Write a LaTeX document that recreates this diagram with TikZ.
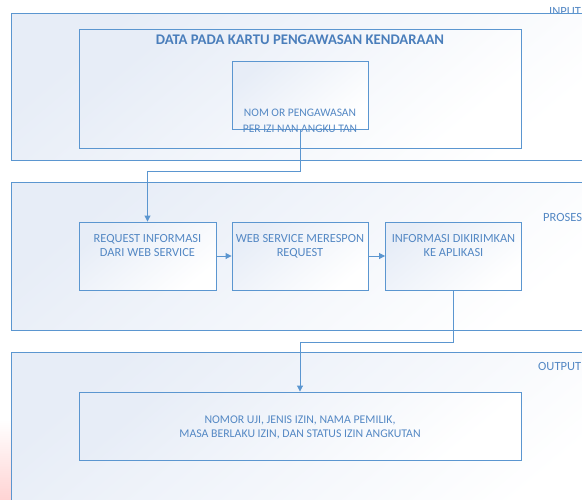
\documentclass[tikz,border=0pt]{standalone}
\usepackage{fontspec}
\setmainfont{Carlito}
\usetikzlibrary{arrows.meta}
\definecolor{lineblue}{RGB}{91,150,208}
\definecolor{textblue}{RGB}{84,136,196}
\definecolor{titleblue}{RGB}{74,126,187}
\definecolor{shadeA}{RGB}{231,237,247}
\definecolor{pinkish}{RGB}{255,212,212}
\tikzset{
  lane/.style={draw=lineblue, line width=0.9pt, top color=shadeA, bottom color=white, shading angle=40},
  procbox/.style={draw=lineblue, line width=0.9pt, top color=shadeA, bottom color=white, shading angle=40, inner sep=0pt},
  boxtext/.style={text=textblue, align=center, inner sep=0pt, anchor=north},
  lanelabel/.style={text=textblue, inner sep=0pt, anchor=west, font=\fontsize{12.5}{14}\selectfont},
  conn/.style={draw=lineblue, line width=0.9pt},
  arr/.style={conn, -{Triangle[length=6pt,width=6pt]}}
}
\begin{document}
\begin{tikzpicture}[x=1pt,y=-1pt]
\useasboundingbox (0,0) rectangle (582,499);
\clip (0,0) rectangle (582,499);
% faint pink mark at lower left
\shade[top color=white, bottom color=pinkish] (0,420) rectangle (12,499);
% lane labels (INPUT is crossed by the lane's top line)
\node[lanelabel] (lblin) at (549,11.5) {INPUT};
% lanes
\draw[lane] (11,13) rectangle (610,160);
\draw[lane] (11,182) rectangle (610,330);
\draw[lane] (11,352) rectangle (610,520);
\node[lanelabel] (lblpr) at (543,217.3) {PROSES};
\node[lanelabel] (lblout) at (538,366.7) {OUTPUT};
% input
\node[procbox, minimum width=442pt, minimum height=119pt] (data) at (300,88.5) {};
\node[boxtext, font=\fontsize{14.7}{16}\selectfont\bfseries, text=titleblue] (datat) at (300,34.8) {DATA PADA KARTU PENGAWASAN KENDARAAN};
\node[procbox, minimum width=136pt, minimum height=68pt] (nomor) at (300,95) {};
\node[boxtext, font=\fontsize{11.5}{16}\selectfont] (nomort) at (300,109.3) {NOM OR PENGAWASAN\\PER IZI NAN ANGKU TAN};
% proses
\node[procbox, minimum width=137pt, minimum height=68pt] (req) at (147.5,256) {};
\node[procbox, minimum width=136pt, minimum height=68pt] (web) at (300,256) {};
\node[procbox, minimum width=136pt, minimum height=68pt] (info) at (453.5,256) {};
\node[boxtext, font=\fontsize{12.4}{13.6}\selectfont] (reqt) at (147.5,234.3) {REQUEST INFORMASI\\DARI WEB SERVICE};
\node[boxtext, font=\fontsize{12.4}{13.6}\selectfont] (webt) at (300,234.3) {WEB SERVICE MERESPON\\REQUEST};
\node[boxtext, font=\fontsize{12.4}{13.6}\selectfont] (infot) at (453.5,234.3) {INFORMASI DIKIRIMKAN\\KE APLIKASI};
% output
\node[procbox, minimum width=442pt, minimum height=68pt] (outb) at (300,426) {};
\node[boxtext, font=\fontsize{11.8}{13.3}\selectfont] (outt) at (300,416) {NOMOR UJI, JENIS IZIN, NAMA PEMILIK,\\MASA BERLAKU IZIN, DAN STATUS IZIN ANGKUTAN};
% connectors
\coordinate (k1) at (300,171.5);
\coordinate (k2) at (147.5,171.5);
\draw[arr] (nomor.south) -- (k1) -- (k2) -- (req.north);
\draw[arr] (req.east) -- (web.west);
\draw[arr] (web.east) -- (info.west);
\coordinate (k3) at (453.5,342);
\coordinate (k4) at (300,342);
\draw[arr] (info.south) -- (k3) -- (k4) -- (outb.north);
\end{tikzpicture}
\end{document}
